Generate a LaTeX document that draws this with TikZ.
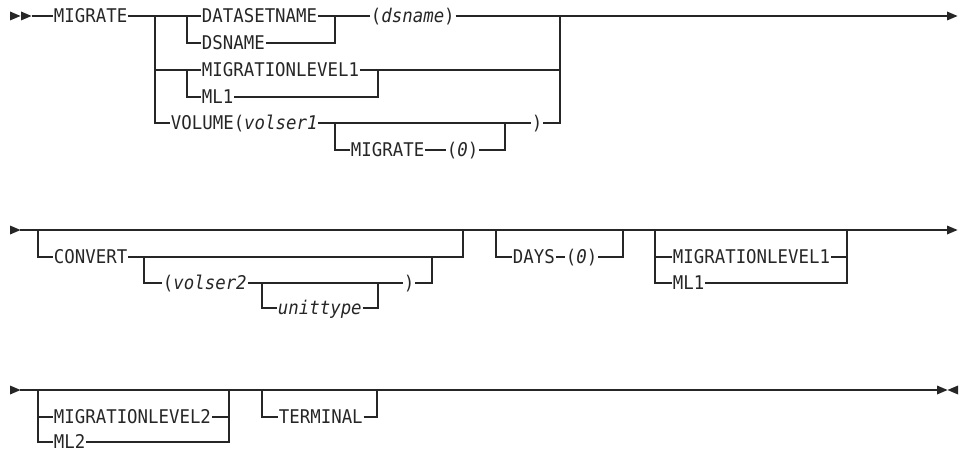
\documentclass[tikz,border=0pt]{standalone}
\usepackage{fontspec}
\setmonofont[FakeStretch=0.92]{DejaVu Sans Mono}

\begin{document}
\begin{tikzpicture}[x=1pt,y=-1pt,
    line width=1.1pt, color=black!85,
    every node/.style={font=\ttfamily\fontsize{18.9}{22}\selectfont,
      anchor=west, inner xsep=0.4pt, inner ysep=0pt,
      text height=13.8pt, text depth=0pt},
    rtri/.pic={\fill (0,-4.5) -- (10.5,0) -- (0,4.5) -- cycle;},
    ltri/.pic={\fill (0,-4.5) -- (-10.5,0) -- (0,4.5) -- cycle;}
]
\useasboundingbox (0,0) rectangle (965,452);

% first line
\pic at (10,16) {rtri};
\pic at (21,16) {rtri};

\node (mig) at (53,16) {MIGRATE};
\node (dsnlong) at (201,16) {DATASETNAME};
\node (dsnshort) at (201,43) {DSNAME};
\node (dsnval) at (370,16) {(\textit{dsname})};
\node (mllong) at (201,70) {MIGRATIONLEVEL1};
\node (mlshort) at (201,97) {ML1};
\node (vol) at (170,123) {VOLUME(\textit{volser1}};
\node (volmig) at (350,150) {MIGRATE};
\node (volzero) at (446,150) {(\textit{0})};
\node (volrp) at (531,123) {)};

\coordinate (s1) at (32,16);
\coordinate (e1) at (947,16);
\coordinate (a1) at (155,16);
\coordinate (a2) at (187,16);
\coordinate (a3) at (335,16);
\coordinate (a4) at (560,16);
\coordinate (b1) at (187,70);
\coordinate (b2) at (378,70);
\coordinate (c1) at (335,123);
\coordinate (c2) at (505,123);

\draw (s1) -- (mig.west);
\draw (mig.east) -- (dsnlong.west);
\draw (a2) |- (dsnshort.west);
\draw (dsnlong.east) -- (dsnval.west);
\draw (dsnshort.east) -| (a3);
\draw (dsnval.east) -- (e1);
\pic at (e1) {rtri};

\draw (a1) |- (vol.west);
\draw (a1 |- b1) -- (mllong.west);
\draw (b1) |- (mlshort.west);
\draw (mllong.east) -- (a4 |- b1);
\draw (mlshort.east) -| (b2);

\draw (vol.east) -- (volrp.west);
\draw (c1) |- (volmig.west);
\draw (volmig.east) -- (volzero.west);
\draw (volzero.east) -| (c2);
\draw (volrp.east) -| (a4);

% second line
\pic at (10,230) {rtri};

\node (conv) at (53,257) {CONVERT};
\node (vs2) at (162,283) {(\textit{volser2}};
\node (utype) at (277,308) {\textit{unittype}};
\node (convrp) at (403,283) {)};
\node (days) at (512,257) {DAYS};
\node (dayszero) at (565,257) {(\textit{0})};
\node (mlclong) at (672,257) {MIGRATIONLEVEL1};
\node (mlcshort) at (672,283) {ML1};

\coordinate (s2) at (20,230);
\coordinate (e2) at (947,230);
\coordinate (d1) at (38,230);
\coordinate (d2) at (463,230);
\coordinate (d3) at (144,257);
\coordinate (d4) at (432,257);
\coordinate (d5) at (262,283);
\coordinate (d6) at (378,283);
\coordinate (d7) at (496,230);
\coordinate (d8) at (623,230);
\coordinate (d9) at (655,230);
\coordinate (d10) at (847,230);

\draw (s2) -- (e2);
\pic at (e2) {rtri};

\draw (d1) |- (conv.west);
\draw (conv.east) -| (d2);
\draw (d3) |- (vs2.west);
\draw (vs2.east) -- (convrp.west);
\draw (convrp.east) -| (d4);
\draw (d5) |- (utype.west);
\draw (utype.east) -| (d6);

\draw (d7) |- (days.west);
\draw (days.east) -- (dayszero.west);
\draw (dayszero.east) -| (d8);

\draw (d9) |- (mlcshort.west);
\draw (d9 |- mlclong) -- (mlclong.west);
\draw (mlclong.east) -- (d10 |- mlclong);
\draw (mlcshort.east) -| (d10);

% third line
\pic at (10,390) {rtri};

\node (mldlong) at (53,417) {MIGRATIONLEVEL2};
\node (mldshort) at (53,442) {ML2};
\node (term) at (278,417) {TERMINAL};

\coordinate (s3) at (20,390);
\coordinate (e3) at (937,390);
\coordinate (f1) at (38,390);
\coordinate (f2) at (229,390);
\coordinate (f3) at (262,390);
\coordinate (f4) at (377,390);

\draw (s3) -- (e3);
\pic at (e3) {rtri};
\pic at (958,390) {ltri};

\draw (f1) |- (mldshort.west);
\draw (f1 |- mldlong) -- (mldlong.west);
\draw (mldlong.east) -- (f2 |- mldlong);
\draw (mldshort.east) -| (f2);
\draw (f3) |- (term.west);
\draw (term.east) -| (f4);

\end{tikzpicture}
\end{document}
